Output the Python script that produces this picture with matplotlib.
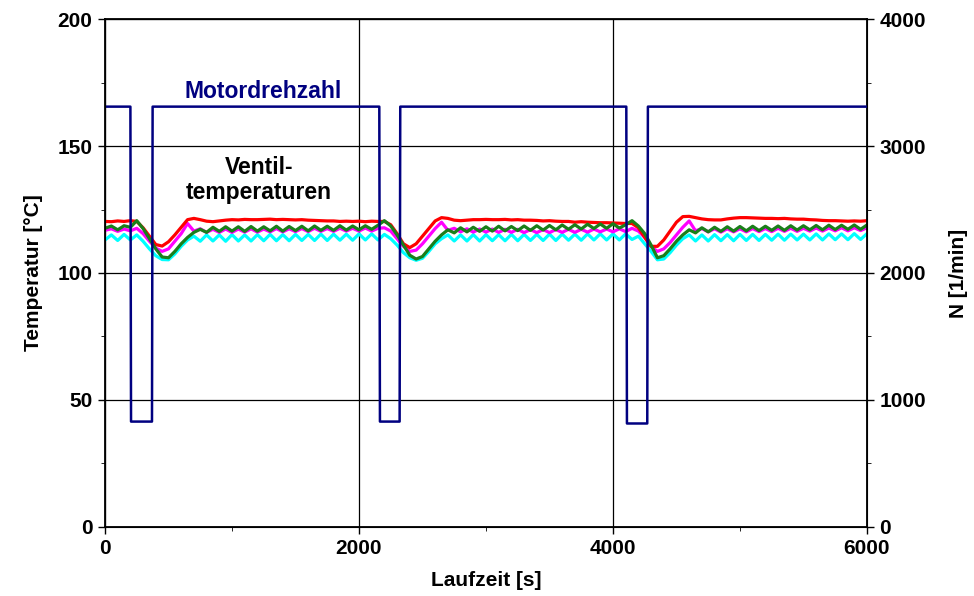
import numpy as np
import matplotlib
matplotlib.use('Agg')
import matplotlib.pyplot as plt
from matplotlib.ticker import MultipleLocator

# time grid of the temperature record (s)
t = np.arange(0, 6001, 50)

# valve temperatures (°C), one value every 50 s
t_red = [
    120.3, 120.2, 120.5, 120.3, 120.6, 120.3, 117.8, 114.5, 111.2, 110.6,
    112.3, 115.0, 118.0, 121.0, 121.5, 121.0, 120.4, 120.2, 120.5, 120.8,
    121.0, 120.9, 121.1, 121.0, 121.0, 121.1, 121.2, 121.0, 121.1, 121.0,
    120.9, 121.0, 120.8, 120.7, 120.6, 120.5, 120.5, 120.3, 120.4, 120.3,
    120.4, 120.2, 120.4, 120.3, 120.3, 119.0, 115.5, 111.5, 110.0, 111.5,
    114.5, 117.5, 120.5, 121.8, 121.5, 120.8, 120.6, 120.8, 121.0, 121.0,
    121.1, 121.0, 121.0, 121.1, 120.9, 121.0, 120.8, 120.8, 120.7, 120.5,
    120.6, 120.4, 120.3, 120.3, 120.0, 120.2, 120.0, 119.9, 119.8, 119.8,
    119.7, 119.6, 119.5, 119.5, 117.8, 114.0, 110.5, 110.5, 113.0, 116.5,
    120.0, 122.2, 122.3, 121.8, 121.3, 121.0, 120.9, 120.9, 121.3, 121.6,
    121.8, 121.8, 121.7, 121.6, 121.5, 121.5, 121.4, 121.5, 121.3, 121.2,
    121.2, 121.0, 120.9, 120.7, 120.6, 120.6, 120.5, 120.4, 120.5, 120.4,
    120.6]

t_green = [
    117.6, 118.5, 117.0, 118.6, 118.0, 120.6, 117.5, 113.5, 109.5, 106.3,
    106.0, 108.5, 111.5, 114.0, 116.0, 117.2, 116.0, 118.0, 116.4, 118.2,
    116.5, 118.2, 116.4, 118.3, 116.5, 118.2, 116.6, 118.4, 116.5, 118.3,
    116.7, 118.4, 116.6, 118.5, 116.8, 118.4, 116.8, 118.6, 116.9, 118.5,
    117.0, 118.6, 117.2, 118.8, 120.6, 118.5, 115.0, 111.0, 107.0, 105.5,
    106.5, 109.5, 112.5, 115.0, 117.0, 115.8, 117.8, 116.2, 118.0, 116.4,
    118.2, 116.5, 118.4, 116.6, 118.3, 116.7, 118.5, 116.8, 118.6, 116.9,
    118.7, 117.0, 118.9, 117.2, 119.0, 117.3, 119.2, 117.5, 119.3, 117.6,
    119.4, 117.7, 119.0, 120.6, 118.5, 115.5, 111.0, 106.0, 106.8, 109.5,
    112.5, 115.0, 117.0, 115.8, 117.8, 116.2, 118.0, 116.4, 118.2, 116.5,
    118.3, 116.6, 118.4, 116.7, 118.4, 116.8, 118.5, 116.8, 118.6, 116.9,
    118.6, 117.0, 118.7, 117.0, 118.8, 117.1, 118.8, 117.2, 118.9, 117.2,
    118.9]

t_magenta = [
    116.8, 117.4, 116.4, 117.3, 116.6, 117.6, 115.5, 112.5, 109.8, 108.5,
    109.5, 112.5, 115.5, 119.5, 116.5, 117.4, 116.0, 117.2, 116.0, 117.3,
    116.0, 117.3, 116.1, 117.4, 116.1, 117.3, 116.2, 117.5, 116.2, 117.4,
    116.3, 117.5, 116.3, 117.6, 116.4, 117.5, 116.4, 117.6, 116.5, 117.6,
    116.5, 117.7, 116.5, 117.6, 117.8, 116.5, 113.5, 110.5, 108.5, 109.0,
    111.5, 114.5, 117.5, 120.0, 116.8, 117.6, 116.2, 117.4, 116.1, 117.3,
    116.1, 117.3, 116.0, 117.2, 116.0, 117.2, 115.9, 117.1, 115.9, 117.1,
    115.9, 117.1, 116.0, 117.2, 116.0, 117.2, 116.1, 117.3, 116.2, 117.3,
    116.2, 117.4, 116.3, 117.6, 116.5, 114.0, 110.5, 108.5, 109.5, 112.0,
    115.0, 118.0, 120.5, 116.6, 117.5, 116.2, 117.4, 116.1, 117.4, 116.2,
    117.4, 116.2, 117.5, 116.3, 117.5, 116.3, 117.6, 116.4, 117.6, 116.4,
    117.6, 116.5, 117.7, 116.5, 117.7, 116.6, 117.8, 116.6, 117.8, 116.7,
    117.8]

t_cyan = [
    113.0, 115.0, 112.8, 115.2, 113.0, 115.0, 112.5, 109.5, 106.8, 105.3,
    105.2, 107.5, 110.5, 113.0, 114.5, 112.5, 115.0, 112.6, 115.0, 112.5,
    115.1, 112.6, 115.0, 112.6, 115.1, 112.7, 115.2, 112.7, 115.1, 112.7,
    115.2, 112.8, 115.2, 112.8, 115.3, 112.8, 115.3, 112.9, 115.3, 112.9,
    115.4, 113.0, 115.4, 113.0, 115.2, 113.5, 111.0, 108.0, 106.0, 105.0,
    105.8, 108.5, 111.5, 113.5, 115.0, 112.6, 115.0, 112.6, 115.1, 112.6,
    115.1, 112.7, 115.1, 112.7, 115.2, 112.7, 115.2, 112.8, 115.2, 112.8,
    115.3, 112.8, 115.3, 112.9, 115.3, 112.9, 115.4, 113.0, 115.4, 113.0,
    115.4, 113.0, 115.4, 113.2, 114.5, 111.5, 108.5, 105.2, 105.5, 108.0,
    111.0, 113.5, 115.0, 112.6, 115.0, 112.6, 115.1, 112.7, 115.1, 112.7,
    115.2, 112.8, 115.2, 112.8, 115.2, 112.9, 115.3, 112.9, 115.3, 113.0,
    115.3, 113.0, 115.4, 113.0, 115.4, 113.1, 115.4, 113.1, 115.5, 113.2,
    115.5]

# engine speed (1/min), step profile
n_time = [0, 200, 205, 370, 375, 2160, 2165, 2320, 2325, 4105, 4110, 4270, 4275, 6000]
n_val = [3310, 3310, 830, 830, 3310, 3310, 830, 830, 3310, 3310, 815, 815, 3310, 3310]

plt.rcParams['font.family'] = ['Liberation Sans', 'DejaVu Sans']
plt.rcParams['font.weight'] = 'bold'
plt.rcParams['axes.labelweight'] = 'bold'

fig = plt.figure(figsize=(9.74, 5.96), dpi=100)
ax = fig.add_axes([0.1078, 0.1158, 0.7823, 0.8523])

ax.plot(t, t_cyan, color='#00ffff', lw=2.3)
ax.plot(t, t_magenta, color='#ff00ff', lw=2.3)
ax.plot(t, t_red, color='#ff0000', lw=2.3)
ax.plot(t, t_green, color='#1a7f1a', lw=2.3)

ax.set_xlim(0, 6000)
ax.set_ylim(0, 200)
ax.xaxis.set_major_locator(MultipleLocator(2000))
ax.xaxis.set_minor_locator(MultipleLocator(1000))
ax.yaxis.set_major_locator(MultipleLocator(50))
ax.yaxis.set_minor_locator(MultipleLocator(25))
ax.grid(True, which='major', color='black', lw=0.9)
ax.tick_params(labelsize=15, width=1, length=5, pad=4)
ax.tick_params(which='minor', length=3)
for s in ax.spines.values():
    s.set_linewidth(1.3)

ax.set_xlabel('Laufzeit [s]', fontsize=15)
ax.set_ylabel('Temperatur [°C]', fontsize=15)
ax.xaxis.set_label_coords(0.5, -0.087)
ax.yaxis.set_label_coords(-0.081, 0.5)

ax.text(1244, 171.3, 'Motordrehzahl', color='#000080', ha='center', va='center',
        fontsize=16.5, weight='bold')
ax.text(1213, 136.6, 'Ventil-\ntemperaturen', color='black', ha='center', va='center',
        fontsize=16.5, weight='bold', linespacing=1.1)

ax2 = ax.twinx()
ax2.plot(n_time, n_val, color='#000080', lw=1.8)
ax2.set_ylim(0, 4000)
ax2.yaxis.set_major_locator(MultipleLocator(1000))
ax2.yaxis.set_minor_locator(MultipleLocator(500))
ax2.tick_params(labelsize=15, width=1, length=5, pad=4)
ax2.tick_params(which='minor', length=3)
ax2.set_ylabel('N [1/min]', fontsize=15)
ax2.yaxis.set_label_coords(1.1076, 0.5)

fig.savefig('out.png', dpi=100)
